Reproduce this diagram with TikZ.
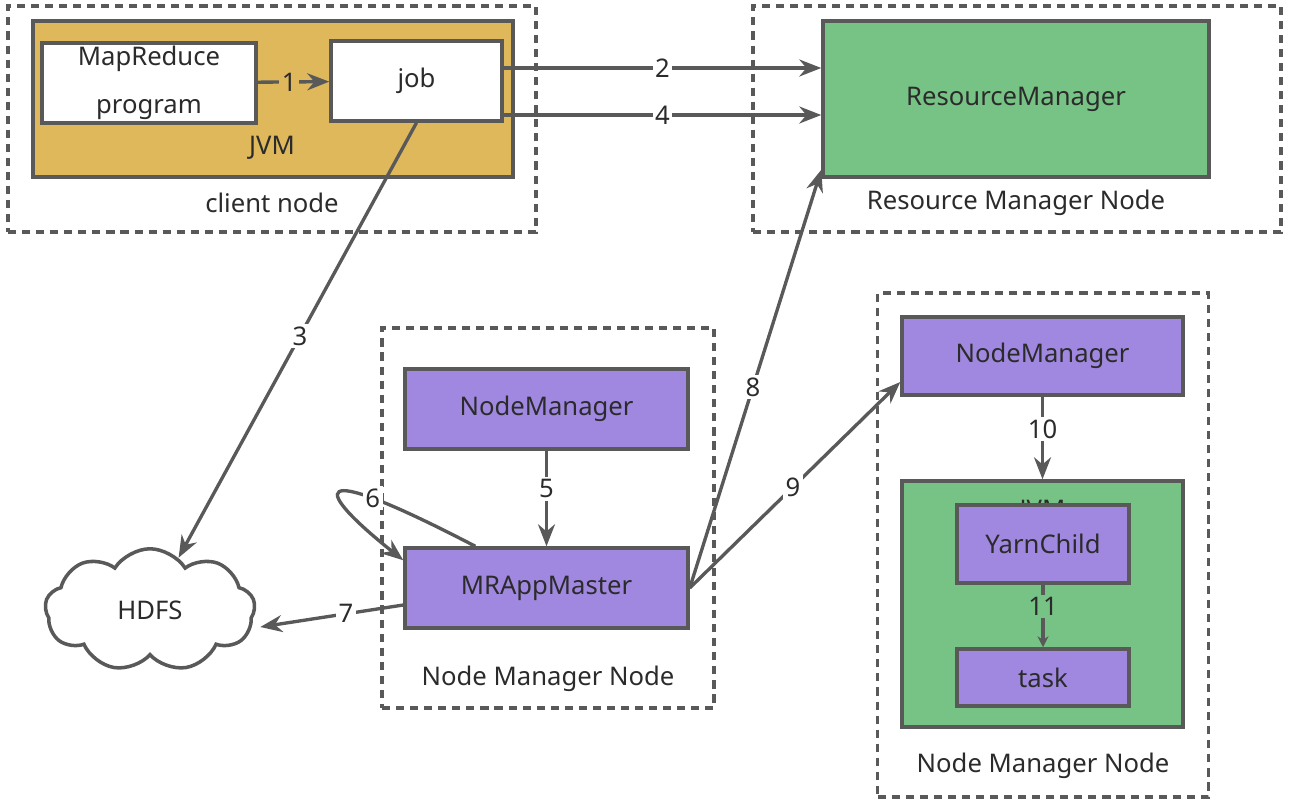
\documentclass[tikz,border=0pt]{standalone}
\usepackage{fontspec}
\setmainfont{Noto Sans}
\usetikzlibrary{arrows.meta}
\usetikzlibrary{shapes.symbols}
\usetikzlibrary{calc}

\definecolor{jvmyellow}{HTML}{DFB85B}
\definecolor{rmgreen}{HTML}{77C386}
\definecolor{nmpurple}{HTML}{A088E0}
\definecolor{edgegray}{HTML}{595959}
\definecolor{txtgray}{HTML}{2B2B2B}

\tikzset{
  box/.style={draw=edgegray, line width=2pt, inner sep=0pt, text=txtgray, align=center},
  hostbox/.style={draw=edgegray, line width=2pt, dash pattern=on 4.6pt off 3.4pt, inner sep=0pt},
  caption/.style={text=txtgray, inner sep=1pt},
  flow/.style={draw=edgegray, line width=1.9pt, -{Stealth[length=4.4mm, width=3.4mm]}},
  num/.style={fill=white, text=txtgray, inner sep=1.5pt},
}

\begin{document}
\begin{tikzpicture}[x=0.02cm, y=-0.02cm, every node/.style={font=\fontsize{14.6}{17}\selectfont}]
\useasboundingbox (0,0) rectangle (1292,802);

% hosts
\node[hostbox, minimum width=10.56cm, minimum height=4.52cm] (clienthost) at (272,119) {};
\node[hostbox, minimum width=10.56cm, minimum height=4.52cm] (rmhost) at (1017,119) {};
\node[hostbox, minimum width=6.64cm, minimum height=7.6cm] (nmhosta) at (548,518) {};
\node[hostbox, minimum width=6.62cm, minimum height=10.08cm] (nmhostb) at (1043,545) {};
\node[caption] (clientcap) at (272,203) {client node};
\node[caption] (rmcap) at (1016,203) {Resource Manager Node};
\node[caption] (nmcapa) at (548,679) {Node Manager Node};
\node[caption] (nmcapb) at (1043,766) {Node Manager Node};

% client JVM
\node[box, fill=jvmyellow, minimum width=9.6cm, minimum height=3.12cm] (clientjvm) at (273,99) {};
\node[caption] (clientjvmcap) at (272,148) {JVM};
\node[box, fill=white, minimum width=4.28cm, minimum height=1.6cm, text width=4.2cm] (mrprog) at (149,83) {MapReduce\\[10pt]program};
\node[box, fill=white, minimum width=3.42cm, minimum height=1.6cm] (job) at (416.5,81) {\raisebox{-2pt}{job}};

% resource manager
\node[box, fill=rmgreen, minimum width=7.72cm, minimum height=3.12cm] (rm) at (1016,99) {\raisebox{-3pt}{ResourceManager}};

% node managers
\node[box, fill=nmpurple, minimum width=5.66cm, minimum height=1.6cm] (nma) at (546.5,409) {\raisebox{-2pt}{NodeManager}};
\node[box, fill=nmpurple, minimum width=5.66cm, minimum height=1.6cm] (mram) at (546.5,588) {\raisebox{-2pt}{MRAppMaster}};
\node[box, fill=nmpurple, minimum width=5.62cm, minimum height=1.56cm] (nmb) at (1042.5,356) {\raisebox{-2pt}{NodeManager}};
\node[box, fill=rmgreen, minimum width=5.62cm, minimum height=4.92cm] (taskjvm) at (1042.5,604) {};
\node[caption] (taskjvmcap) at (1042.5,512) {JVM};
\node[box, fill=nmpurple, minimum width=3.44cm, minimum height=1.56cm] (yarnchild) at (1043,544) {\raisebox{-2pt}{YarnChild}};
\node[box, fill=nmpurple, minimum width=3.44cm, minimum height=1.14cm] (task) at (1043,677.5) {\raisebox{-2pt}{task}};

% storage
\node[draw=edgegray, line width=2pt, cloud, cloud puffs=9, cloud puff arc=115, aspect=1.6, minimum width=4.2cm, minimum height=2.45cm, text=txtgray] (hdfs) at (150,610) {HDFS};

% flows
\draw[flow] (mrprog) -- node[num, fill=jvmyellow, pos=0.44] {1} (job);
\draw[flow] ($(job.east)+(0,-13)$) coordinate (out2) -- node[num] {2} (out2 -| rm.west);
\draw[flow] ($(job.east)+(0,34)$) coordinate (out4) -- node[num] {4} (out4 -| rm.west);
\draw[flow] (job.south) -- node[num, pos=0.49] {3} (hdfs);
\draw[flow] (nma) -- node[num, pos=0.4] {5} (mram);
\draw[flow] ($(mram.north west)+(72,0)$) .. controls (300,455) and (315,490) .. node[num, pos=0.27] {6} ($(mram.north west)+(0,14)$);
\draw[flow] ($(mram.west)+(0,17)$) -- node[num, pos=0.4] {7} ($(hdfs.east)+(4,17)$);
\draw[flow] (mram.east) -- node[num, pos=0.48] {8} ($(rm.south west)+(0,-9)$);
\draw[flow] (mram.east) -- node[num, pos=0.49] {9} ($(nmb.west)+(0,26)$);
\draw[flow] (nmb) -- node[num, pos=0.39] {10} (taskjvm);
\draw[flow, -{Stealth[length=2.2mm, width=2.2mm]}] (yarnchild) -- node[num, fill=rmgreen, pos=0.35] {11} (task);
\end{tikzpicture}
\end{document}
